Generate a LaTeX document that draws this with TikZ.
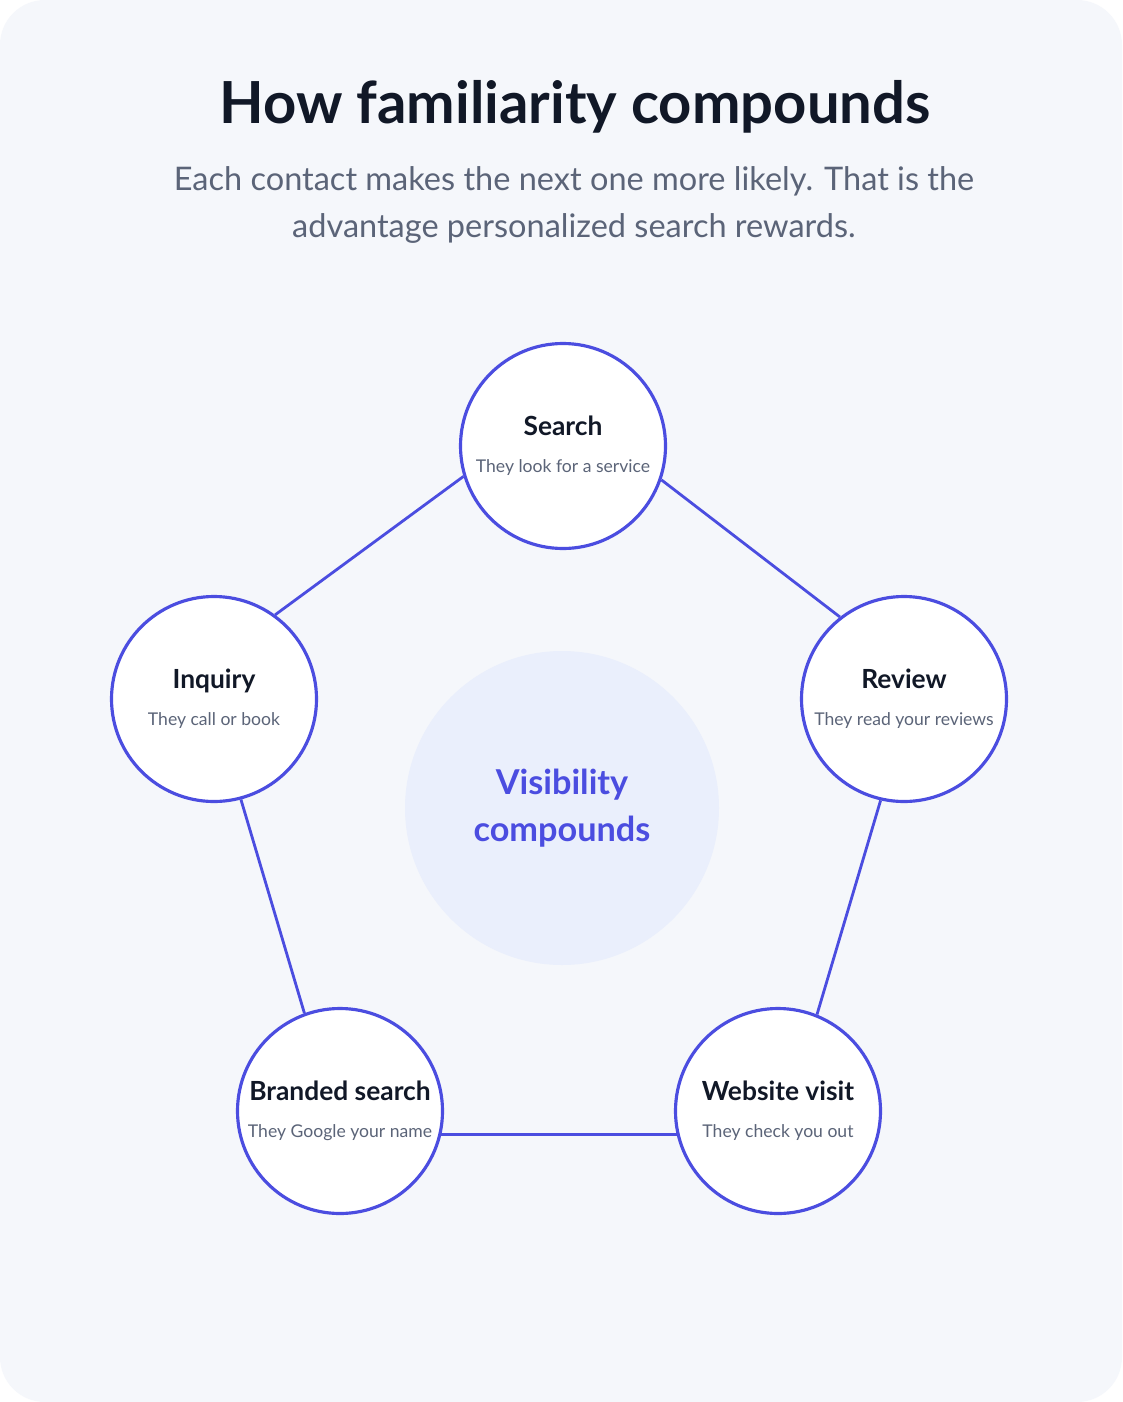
\documentclass[tikz,border=0pt]{standalone}
\usepackage{fontspec}
\setmainfont{Lato}
\definecolor{ring}{HTML}{4B4DE0}
\definecolor{ink}{HTML}{111827}
\definecolor{muted}{HTML}{5B6478}
\definecolor{paper}{HTML}{F5F7FB}
\definecolor{halo}{HTML}{EAEFFC}
\tikzset{
	stage/.style={circle, draw=ring, line width=1.8pt, fill=white, minimum size=205*0.02cm, inner sep=0pt, align=center},
	link/.style={draw=ring, line width=1.6pt}
}
\newcommand{\steptext}[2]{{\fontsize{15}{18}\selectfont\bfseries\color{ink}#1}\\[9pt]{\fontsize{10}{11}\selectfont\color{muted}#2}}
\begin{document}
\begin{tikzpicture}[x=0.02cm, y=-0.02cm]
	\useasboundingbox (0,0) rectangle (1122,1402);
	%card background
	\fill[white] (0,0) rectangle (1122,1402);
	\fill[paper, rounded corners=0.9cm] (0,0) rectangle (1122,1402);

	%heading
	\node (title) at (575,107) {\fontsize{33}{38}\selectfont\bfseries\color{ink}How familiarity compounds};
	\node[align=center, font=\fontsize{18.5}{26.5}\selectfont, text=muted] (subtitle) at (574,205) {Each contact makes the next one more likely. That is the\\advantage personalized search rewards.};

	%centre halo
	\node[circle, fill=halo, minimum size=314*0.02cm, align=center, font=\fontsize{19.5}{27}\selectfont\bfseries, text=ring] (hub) at (562,808)
		{Visibility\\compounds};

	%steps of the cycle
	\node[stage] (search) at (563,446) {\steptext{Search}{They look for a service}};
	\node[stage] (review) at (904,699) {\steptext{Review}{They read your reviews}};
	\node[stage] (visit) at (778,1111) {\steptext{Website visit}{They check you out}};
	\node[stage] (branded) at (340,1111) {\steptext{Branded search}{They Google your name}};
	\node[stage] (inquiry) at (214,699) {\steptext{Inquiry}{They call or book}};

	%links between steps
	\draw[link] (search.-19) -- (review.128);
	\draw[link] (review.-103) -- (visit.68);
	\draw[link] (visit.-167) -- (branded.-13);
	\draw[link] (branded.110) -- (inquiry.-75);
	\draw[link] (inquiry.54) -- (search.197);
\end{tikzpicture}
\end{document}
